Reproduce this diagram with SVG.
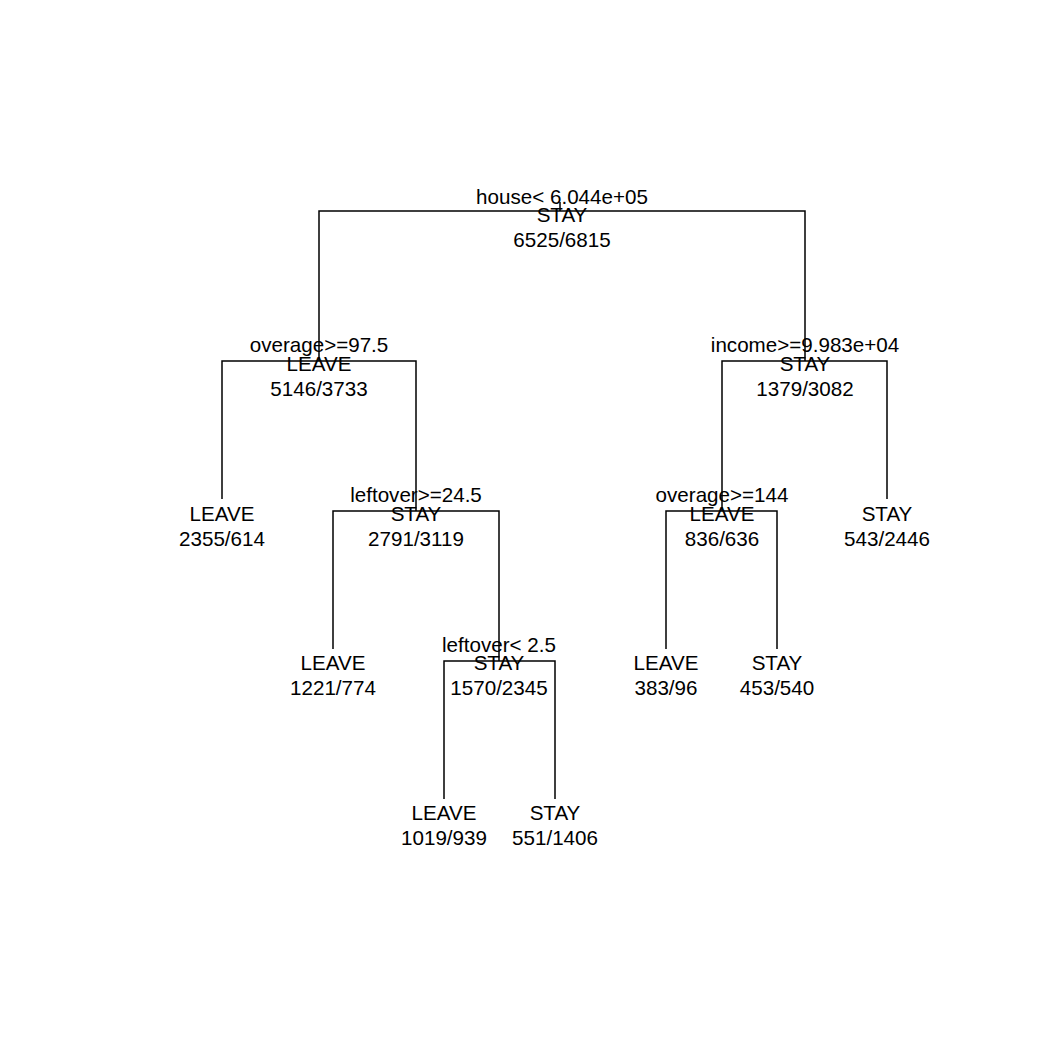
<svg xmlns="http://www.w3.org/2000/svg" width="1050" height="1050" viewBox="0 0 1050 1050">
<style>
text{font-family:"Liberation Sans",Arial,sans-serif;font-size:20.6px;fill:#000;text-anchor:middle}
.e{fill:none;stroke:#000;stroke-width:1.5}
</style>
<rect width="1050" height="1050" fill="#fff"/>
<g id="connectors" class="e">
<path d="M560 202V211M319 361V211H805V361"/>
<path d="M222 499V361H416V511"/>
<path d="M722 511V361H887V499"/>
<path d="M333 649V511H499V661"/>
<path d="M444 799V661H555V799"/>
<path d="M666 649V511H777V649"/>
</g>
<g id="n1"><text x="562" y="204">house&lt; 6.044e+05</text><text x="562" y="222">STAY</text><text x="562" y="247">6525/6815</text></g>
<g id="n2"><text x="319" y="352">overage&gt;=97.5</text><text x="319" y="371">LEAVE</text><text x="319" y="396">5146/3733</text></g>
<g id="n3"><text x="805" y="352">income&gt;=9.983e+04</text><text x="805" y="371">STAY</text><text x="805" y="396">1379/3082</text></g>
<g id="n4"><text x="222" y="521">LEAVE</text><text x="222" y="546">2355/614</text></g>
<g id="n5"><text x="416" y="502">leftover&gt;=24.5</text><text x="416" y="521">STAY</text><text x="416" y="546">2791/3119</text></g>
<g id="n6"><text x="722" y="502">overage&gt;=144</text><text x="722" y="521">LEAVE</text><text x="722" y="546">836/636</text></g>
<g id="n7"><text x="887" y="521">STAY</text><text x="887" y="546">543/2446</text></g>
<g id="n10"><text x="333" y="670">LEAVE</text><text x="333" y="695">1221/774</text></g>
<g id="n11"><text x="499" y="652">leftover&lt; 2.5</text><text x="499" y="670">STAY</text><text x="499" y="695">1570/2345</text></g>
<g id="n12"><text x="666" y="670">LEAVE</text><text x="666" y="695">383/96</text></g>
<g id="n13"><text x="777" y="670">STAY</text><text x="777" y="695">453/540</text></g>
<g id="n22"><text x="444" y="820">LEAVE</text><text x="444" y="845">1019/939</text></g>
<g id="n23"><text x="555" y="820">STAY</text><text x="555" y="845">551/1406</text></g>
</svg>
